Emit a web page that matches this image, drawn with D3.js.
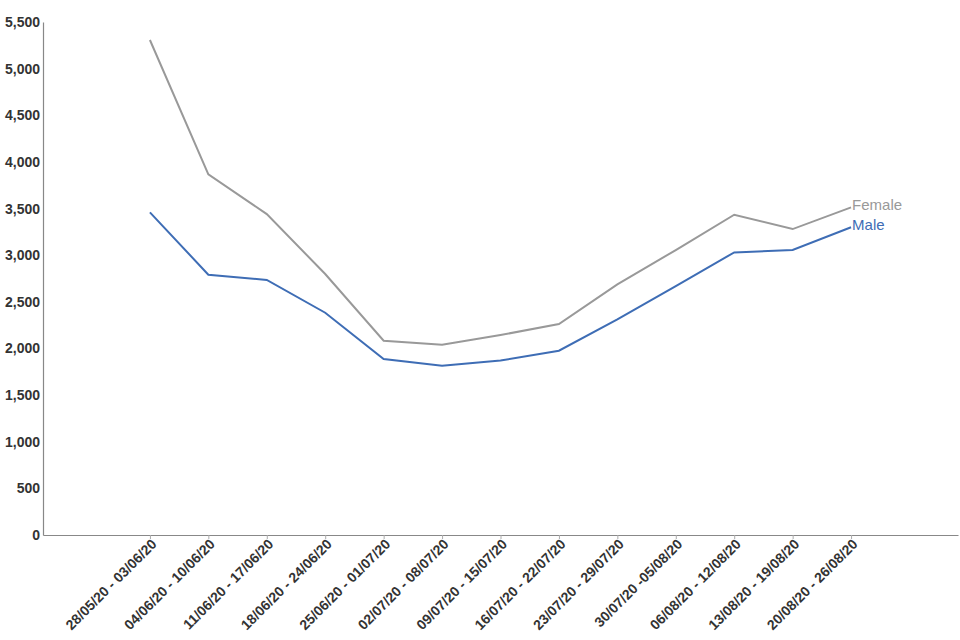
<!DOCTYPE html>
<html><head><meta charset="utf-8">
<script src="https://cdn.jsdelivr.net/npm/d3@7"></script>
<style>
body{margin:0;background:#fff;font-family:"Liberation Sans",Arial,sans-serif;}
</style></head>
<body><svg id="c" width="960" height="640"></svg>
<script>
const categories = ["28/05/20 - 03/06/20","04/06/20 - 10/06/20","11/06/20 - 17/06/20","18/06/20 - 24/06/20","25/06/20 - 01/07/20","02/07/20 - 08/07/20","09/07/20 - 15/07/20","16/07/20 - 22/07/20","23/07/20 - 29/07/20","30/07/20 -05/08/20","06/08/20 - 12/08/20","13/08/20 - 19/08/20","20/08/20 - 26/08/20"];
const female = [5307,3867,3441,2798,2083,2040,2144,2262,2687,3055,3434,3280,3513];
const male = [3459,2791,2734,2383,1887,1815,1870,1976,2312,2669,3030,3055,3299];
const yTicks = [0,500,1000,1500,2000,2500,3000,3500,4000,4500,5000,5500];

const svg = d3.select("#c");
const mLeft = 43, mRight = 958, mTop = 22, mBottom = 535;
const x = d3.scalePoint().domain(categories).range([mLeft, mRight]).padding(1.83);
const y = d3.scaleLinear().domain([0,5500]).range([mBottom, mTop]);

// y axis
const ya = svg.append("g").attr("transform",`translate(${mLeft},0)`)
  .call(d3.axisLeft(y).tickValues(yTicks).tickSize(0).tickPadding(3).tickFormat(d3.format(",")));
ya.select(".domain").attr("stroke","#888").attr("stroke-width",1.2);
ya.selectAll("text").attr("font-family","'Liberation Sans',Arial,sans-serif").attr("font-size",14).attr("font-weight","bold").attr("fill","#333");

// x axis
const xa = svg.append("g").attr("transform",`translate(0,${mBottom})`)
  .call(d3.axisBottom(x).tickSize(4).tickSizeOuter(0));
xa.select(".domain").attr("stroke","#888").attr("stroke-width",1.2);
xa.selectAll(".tick line").attr("stroke","#aaa");
xa.selectAll("text").attr("font-family","'Liberation Sans',Arial,sans-serif").attr("font-size",14).attr("font-weight","bold").attr("fill","#333")
  .attr("text-anchor","end").attr("dy",null).attr("y",0)
  .attr("transform","translate(7,10) rotate(-45)");

const line = d3.line().x((d,i)=>x(categories[i])).y(d=>y(d));
const series = [{name:"Female",vals:female,color:"#999999"},{name:"Male",vals:male,color:"#3e6db5"}];
series.forEach(s=>{
  svg.append("path").datum(s.vals).attr("d",line).attr("fill","none")
    .attr("stroke",s.color).attr("stroke-width",2);
  const last = s.vals.length-1;
  svg.append("text").attr("x",x(categories[last])+1).attr("y",y(s.vals[last])+3)
    .attr("font-family","'Liberation Sans',Arial,sans-serif").attr("font-size",15).attr("fill",s.color).text(s.name);
});
</script></body></html>
